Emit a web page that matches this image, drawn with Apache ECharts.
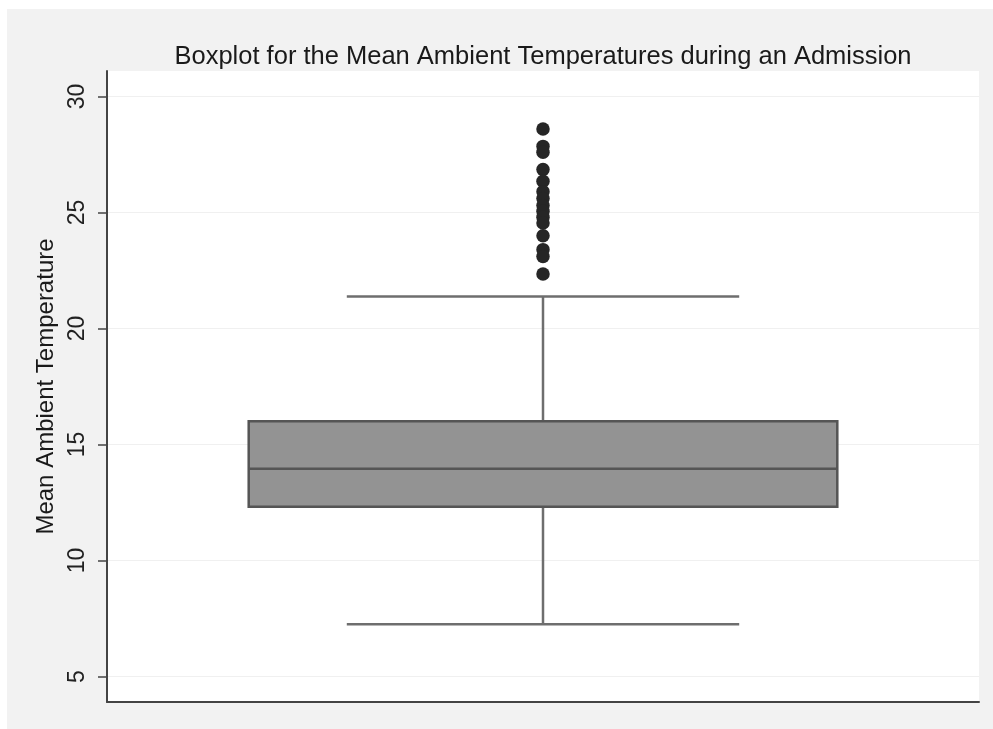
<!DOCTYPE html>
<html>
<head>
<meta charset="utf-8">
<script src="https://cdn.jsdelivr.net/npm/echarts@6/dist/echarts.min.js"></script>
<style>
  html, body { margin: 0; padding: 0; background: #ffffff; width: 993px; height: 729px; overflow: hidden; }
  #chart { position: absolute; left: 7px; top: 9px; width: 986px; height: 720px; }
</style>
</head>
<body>
<div id="chart"></div>
<script>
// ---- data ----
const categories = ['Mean Ambient Temperature'];
// [lower whisker, Q1, median, Q3, upper whisker]
const boxStats = [7.25, 12.32, 13.95, 16.0, 21.38];
const outliers = [28.6, 27.85, 27.6, 26.85, 26.35, 25.9, 25.6, 25.3, 25.05, 24.8, 24.55, 24.0, 23.4, 23.1, 22.35];
const yTicks = [5, 10, 15, 20, 25, 30];
const yMin = 3.9;
const yMax = 31.1;
const titleText = 'Boxplot for the Mean Ambient Temperatures during an Admission';
const yAxisName = 'Mean Ambient Temperature';

const chart = echarts.init(document.getElementById('chart'), null, { renderer: 'canvas' });

const FONT = 'Liberation Sans, Arial, Helvetica, sans-serif';

const option = {
  backgroundColor: '#f2f2f2',
  animation: false,
  title: {
    text: titleText,
    left: 536,
    top: 35,
    padding: 0,
    textAlign: 'center',
    textStyle: { fontFamily: FONT, fontSize: 25.5, fontWeight: 'normal', color: '#1a1a1a' }
  },
  grid: {
    left: 100, right: 14, top: 62, bottom: 27,
    show: true, backgroundColor: '#ffffff', borderWidth: 0
  },
  xAxis: {
    type: 'category',
    data: categories,
    boundaryGap: true,
    axisLine: { show: true, lineStyle: { color: '#444', width: 2 } },
    axisTick: { show: false },
    axisLabel: { show: false },
    splitLine: { show: false }
  },
  yAxis: {
    type: 'value',
    min: yMin,
    max: yMax,
    name: yAxisName,
    nameLocation: 'middle',
    nameRotate: 90,
    nameGap: 37,
    nameTextStyle: { fontFamily: FONT, fontSize: 24, color: '#1a1a1a' },
    axisLine: { show: true, lineStyle: { color: '#444', width: 2 } },
    axisTick: { show: true, length: 9, customValues: yTicks, lineStyle: { color: '#444', width: 1.5 } },
    axisLabel: {
      customValues: yTicks,
      rotate: 90,
      margin: 18,
      fontFamily: FONT, fontSize: 23, color: '#222'
    },
    splitLine: { show: true, lineStyle: { color: '#f0f0f0', width: 1 } }
  },
  series: [
    {
      type: 'custom',
      data: [[0].concat(boxStats)],
      encode: { x: 0, y: [1, 2, 3, 4, 5] },
      renderItem: function (params, api) {
        const xi = api.value(0);
        const band = api.size([1, 0])[0];
        const boxW = band * 0.675;
        const capW = band * 0.45;
        const pLow = api.coord([xi, api.value(1)]);
        const pQ1 = api.coord([xi, api.value(2)]);
        const pMed = api.coord([xi, api.value(3)]);
        const pQ3 = api.coord([xi, api.value(4)]);
        const pHigh = api.coord([xi, api.value(5)]);
        const cx = pMed[0];
        const whisk = { stroke: '#6e6e6e', lineWidth: 2.5 };
        return {
          type: 'group',
          children: [
            { type: 'line', shape: { x1: cx, y1: pHigh[1], x2: cx, y2: pQ3[1] }, style: whisk },
            { type: 'line', shape: { x1: cx, y1: pQ1[1], x2: cx, y2: pLow[1] }, style: whisk },
            { type: 'line', shape: { x1: cx - capW / 2, y1: pHigh[1], x2: cx + capW / 2, y2: pHigh[1] }, style: whisk },
            { type: 'line', shape: { x1: cx - capW / 2, y1: pLow[1], x2: cx + capW / 2, y2: pLow[1] }, style: whisk },
            { type: 'rect', shape: { x: cx - boxW / 2, y: pQ3[1], width: boxW, height: pQ1[1] - pQ3[1] },
              style: { fill: '#939393', stroke: '#555555', lineWidth: 2.5 } },
            { type: 'line', shape: { x1: cx - boxW / 2, y1: pMed[1], x2: cx + boxW / 2, y2: pMed[1] },
              style: { stroke: '#555555', lineWidth: 2.5 } }
          ]
        };
      }
    },
    {
      type: 'scatter',
      data: outliers.map(function (v) { return [0, v]; }),
      symbol: 'circle',
      symbolSize: 13.5,
      itemStyle: { color: '#262626', opacity: 1 }
    }
  ]
};

chart.setOption(option);
</script>
</body>
</html>
